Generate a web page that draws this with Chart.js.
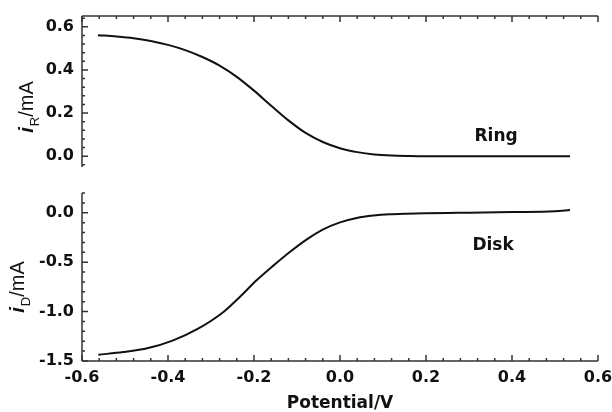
<!DOCTYPE html>
<html>
<head>
<meta charset="utf-8">
<script src="https://cdn.jsdelivr.net/npm/chart.js@4"></script>
<style>
  body { margin: 0; background: #fff; }
  #wrap { position: relative; width: 612px; height: 412px; }
  #ringBox { position: absolute; left: 0; top: 0; }
  #diskBox { position: absolute; left: 0; top: 180px; }
</style>
</head>
<body>
<div id="wrap">
  <div id="ringBox"><canvas id="ringChart" width="612" height="180"></canvas></div>
  <div id="diskBox"><canvas id="diskChart" width="612" height="232"></canvas></div>
</div>
<script>
// ring current vs potential
var ringPotential = [-0.563, -0.52, -0.48, -0.44, -0.40, -0.36, -0.32, -0.28, -0.24, -0.20, -0.16, -0.12,
  -0.08, -0.04, 0.0, 0.04, 0.08, 0.12, 0.16, 0.20, 0.30, 0.40, 0.535];
var ringCurrent = [0.561, 0.555, 0.547, 0.534, 0.516, 0.492, 0.460, 0.420, 0.368, 0.304, 0.234, 0.166,
  0.108, 0.066, 0.037, 0.019, 0.008, 0.003, 0.001, 0.0, 0.0, 0.0, 0.0];

// disk current vs potential
var diskPotential = [-0.562, -0.504, -0.446, -0.388, -0.33, -0.271, -0.233, -0.194, -0.155, -0.116, -0.078,
  -0.039, 0.0, 0.039, 0.078, 0.116, 0.155, 0.2, 0.25, 0.3, 0.4, 0.5, 0.535];
var diskCurrent = [-1.436, -1.41, -1.369, -1.291, -1.173, -1.004, -0.852, -0.683, -0.535, -0.395, -0.272,
  -0.168, -0.097, -0.052, -0.028, -0.015, -0.009, -0.005, -0.002, 0.0, 0.007, 0.016, 0.027];

var xTicks = [-0.6, -0.4, -0.2, 0.0, 0.2, 0.4, 0.6];
var ringTicks = [0.0, 0.2, 0.4, 0.6];
var diskTicks = [-1.5, -1.0, -0.5, 0.0];

const TICK_FONT = { family: "'DejaVu Sans', sans-serif", size: 16, weight: 'bold' };
const INK = '#111';
const AXIS = '#333';

function toPoints(xs, ys) {
  return xs.map((x, i) => ({ x: x, y: ys[i] }));
}

function noPad(s) {
  s.paddingTop = 0; s.paddingBottom = 0; s.paddingLeft = 0; s.paddingRight = 0;
}

// axis lines with inward ticks, titles and curve labels
const axisFrame = {
  id: 'axisFrame',
  afterDraw(chart, args, opts) {
    const c = chart.ctx;
    const a = chart.chartArea;
    c.save();
    c.strokeStyle = AXIS;
    c.lineWidth = 1.5;
    opts.sides.forEach(s => {
      const sc = chart.scales[s.scale];
      c.beginPath();
      if (s.edge == 'top') { c.moveTo(a.left, a.top); c.lineTo(a.right, a.top); }
      if (s.edge == 'bottom') { c.moveTo(a.left, a.bottom); c.lineTo(a.right, a.bottom); }
      if (s.edge == 'left') { c.moveTo(a.left, a.top); c.lineTo(a.left, a.bottom); }
      for (let k = Math.ceil(sc.min / s.minor - 1e-6); k * s.minor <= sc.max + 1e-6; k++) {
        const v = k * s.minor;
        const major = Math.abs(v / s.major - Math.round(v / s.major)) < 1e-6;
        const len = major ? 6 : 3;
        const p = sc.getPixelForValue(v);
        if (s.edge == 'top') { c.moveTo(p, a.top); c.lineTo(p, a.top + len); }
        if (s.edge == 'bottom') { c.moveTo(p, a.bottom); c.lineTo(p, a.bottom - len); }
        if (s.edge == 'left') { c.moveTo(a.left, p); c.lineTo(a.left + len, p); }
      }
      c.stroke();
    });

    c.fillStyle = INK;
    // y title: italic i, subscript, /mA
    const t = opts.yTitle;
    c.translate(t.x, t.y);
    c.rotate(-Math.PI / 2);
    const fMain = "bold italic 20px 'Liberation Sans', sans-serif";
    const fSub = "13px 'Liberation Sans', sans-serif";
    const fRest = "20px 'Liberation Sans Narrow', 'Liberation Sans', sans-serif";
    c.font = fMain; const w1 = c.measureText('i').width;
    c.font = fSub; const w2 = c.measureText(t.sub).width;
    c.font = fRest; const w3 = c.measureText('/mA').width;
    let px = -(w1 + w2 + w3 + 1) / 2;
    c.textBaseline = 'alphabetic';
    c.textAlign = 'left';
    c.font = fMain; c.fillText('i', px, 0); px += w1 + 1;
    c.font = fSub; c.fillText(t.sub, px, 6); px += w2;
    c.font = fRest; c.fillText('/mA', px, 0);
    c.setTransform(1, 0, 0, 1, 0, 0);

    // curve label
    const lb = opts.label;
    c.font = "bold 17px 'DejaVu Sans', sans-serif";
    c.textAlign = 'center';
    c.textBaseline = 'middle';
    c.fillText(lb.text, chart.scales.x.getPixelForValue(lb.x), chart.scales.y.getPixelForValue(lb.y));

    if (opts.xTitle) {
      c.fillText(opts.xTitle.text, (a.left + a.right) / 2, opts.xTitle.y);
    }
    c.restore();
  }
};

function lineDataset(xs, ys) {
  return {
    data: toPoints(xs, ys),
    borderColor: INK,
    borderWidth: 2,
    pointRadius: 0,
    cubicInterpolationMode: 'monotone',
    fill: false
  };
}

var ringChart = new Chart(document.getElementById('ringChart'), {
  type: 'line',
  data: { datasets: [lineDataset(ringPotential, ringCurrent)] },
  plugins: [axisFrame],
  options: {
    responsive: false,
    animation: false,
    layout: { padding: { top: 16, right: 14, bottom: 13, left: 0 } },
    plugins: {
      legend: { display: false },
      tooltip: { enabled: false },
      axisFrame: {
        sides: [
          { scale: 'x', edge: 'top', major: 0.2, minor: 0.04 },
          { scale: 'y', edge: 'left', major: 0.2, minor: 0.04 }
        ],
        yTitle: { x: 33, y: 107, sub: 'R' },
        label: { text: 'Ring', x: 0.363, y: 0.093 }
      }
    },
    scales: {
      x: { type: 'linear', min: -0.6, max: 0.6, display: false },
      y: {
        type: 'linear', min: -0.05, max: 0.65,
        afterBuildTicks: s => { s.ticks = ringTicks.map(v => ({ value: v })); },
        afterFit: s => { s.width = 82; noPad(s); },
        grid: { display: false, drawTicks: false },
        border: { display: false },
        ticks: { font: TICK_FONT, color: INK, padding: 8, callback: v => v.toFixed(1) }
      }
    }
  }
});

var diskChart = new Chart(document.getElementById('diskChart'), {
  type: 'line',
  data: { datasets: [lineDataset(diskPotential, diskCurrent)] },
  plugins: [axisFrame],
  options: {
    responsive: false,
    animation: false,
    layout: { padding: { top: 13, right: 14, bottom: 0, left: 0 } },
    plugins: {
      legend: { display: false },
      tooltip: { enabled: false },
      axisFrame: {
        sides: [
          { scale: 'x', edge: 'bottom', major: 0.2, minor: 0.04 },
          { scale: 'y', edge: 'left', major: 0.5, minor: 0.1 }
        ],
        yTitle: { x: 24, y: 107, sub: 'D' },
        label: { text: 'Disk', x: 0.356, y: -0.328 },
        xTitle: { text: 'Potential/V', y: 224 }
      }
    },
    scales: {
      x: {
        type: 'linear', min: -0.6, max: 0.6,
        afterBuildTicks: s => { s.ticks = xTicks.map(v => ({ value: v })); },
        afterFit: s => { s.height = 51; noPad(s); },
        grid: { display: false, drawTicks: false },
        border: { display: false },
        ticks: { font: TICK_FONT, color: INK, padding: 7, maxRotation: 0, autoSkip: false,
          callback: v => v.toFixed(1) }
      },
      y: {
        type: 'linear', min: -1.5, max: 0.2,
        afterBuildTicks: s => { s.ticks = diskTicks.map(v => ({ value: v })); },
        afterFit: s => { s.width = 82; noPad(s); },
        grid: { display: false, drawTicks: false },
        border: { display: false },
        ticks: { font: TICK_FONT, color: INK, padding: 8, callback: v => v.toFixed(1) }
      }
    }
  }
});
</script>
</body>
</html>
